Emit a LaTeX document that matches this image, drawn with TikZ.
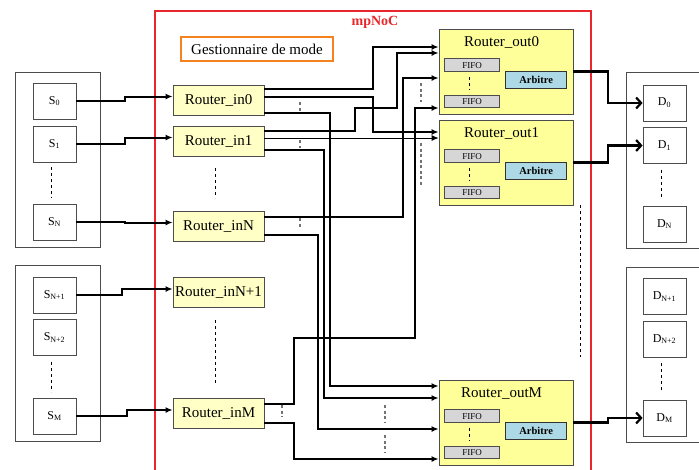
\documentclass[tikz,border=0pt]{standalone}
\usepackage{fontspec}
\setmainfont{Liberation Serif}
\usetikzlibrary{arrows.meta, positioning, calc}

\definecolor{inyellow}{HTML}{FFFFC6}
\definecolor{outyellow}{HTML}{FFFF99}
\definecolor{arbblue}{HTML}{ADD8E6}
\definecolor{fifogray}{HTML}{D6D6D6}
\definecolor{nocred}{HTML}{E8262B}
\definecolor{gestorange}{HTML}{F58220}

\begin{document}
\begin{tikzpicture}[x=1pt, y=-1pt, >=Latex,
  unitbox/.style={draw=black!70, fill=white, line width=0.8pt, minimum width=43pt, minimum height=36pt, inner sep=0pt, font=\fontsize{12}{14}\selectfont},
  rin/.style={draw=black!70, fill=inyellow, line width=0.8pt, minimum width=91pt, minimum height=30pt, inner sep=0pt, font=\fontsize{15}{18}\selectfont},
  rout/.style={draw=black!70, fill=outyellow, line width=0.8pt, minimum width=134pt, minimum height=85pt, inner sep=0pt},
  fifo/.style={draw=black!70, fill=fifogray, line width=0.8pt, minimum width=55pt, minimum height=12.5pt, inner sep=0pt, font=\fontsize{9}{10}\selectfont},
  arb/.style={draw=black!80, fill=arbblue, line width=0.8pt, minimum width=61pt, minimum height=17pt, inner sep=0pt, font=\bfseries\fontsize{10.5}{12}\selectfont},
  feed/.style={line width=2pt, -{Latex[length=7pt,width=6pt]}},
  conn/.style={line width=1.6pt, -{Latex[length=7pt,width=6pt]}},
  deliver/.style={line width=2.2pt, -{Straight Barb[length=5pt,width=11pt]}},
  gap/.style={dashed, line width=0.8pt},
  tick/.style={draw=black!55, line width=1.3pt, dash pattern=on 3pt off 2.5pt}]
  \useasboundingbox (0,0) rectangle (699,469);
  \clip (0,0) rectangle (699,469);

  % mpNoC frame
  \draw[draw=nocred, line width=1.3pt] (155,11) rectangle (591,480);
  \node[text=nocred, font=\bfseries\fontsize{14}{16}\selectfont] (noc) at (375,22) {mpNoC};
  \node[draw=gestorange, line width=1.2pt, minimum width=152pt, minimum height=24pt, inner sep=0pt, font=\fontsize{15}{18}\selectfont] (gest) at (257,49) {Gestionnaire de mode};

  % Sources
  \draw[draw=black!70, line width=0.9pt] (15,72) rectangle (100,247);
  \draw[draw=black!70, line width=0.9pt] (15,265) rectangle (100,441);
  \foreach \n/\y/\lbl in {0/101/0, 1/144/1, N/222/N, Na/295/N+1, Nb/337.5/N+2, M/416/M}
    \node[unitbox] (s\n) at (54.5,\y) {S\textsubscript{\lbl}};
  \draw[gap] (51,167) -- (51,198);
  \draw[gap] (51,362) -- (51,392);

  % Destinations
  \draw[draw=black!70, line width=0.9pt] (626,72) rectangle (710,248);
  \draw[draw=black!70, line width=0.9pt] (626,267) rectangle (710,442);
  \foreach \n/\y/\lbl in {0/103/0, 1/145.5/1, N/224/N, Na/296.5/N+1, Nb/339/N+2, M/418/M}
    \node[unitbox] (d\n) at (664.5,\y) {D\textsubscript{\lbl}};
  \draw[gap] (661,170) -- (661,200);
  \draw[gap] (661,363) -- (661,393);

  % Router_in
  \foreach \n/\y/\lbl in {0/100/0, 1/141/1, N/226/N, Na/292.5/N+1, M/413.5/M}
    \node[rin] (rin\n) at (218.5,\y) {Router\_in\lbl};
  \draw[gap] (215,168) -- (215,198);
  \draw[gap] (215,320) -- (215,383);

  % Router_out
  \foreach \n/\y in {0/71.5, 1/162.5, M/422.5} {
    \node[rout] (rout\n) at (506,\y) {};
    \node[font=\fontsize{15}{18}\selectfont] (t\n) at ($(rout\n.north west)+(63,14)$) {Router\_out\n};
    \node[fifo] (fa\n) at ($(rout\n.north west)+(33.5,36.5)$) {FIFO};
    \node[fifo] (fb\n) at ($(rout\n.north west)+(33.5,73)$) {FIFO};
    \draw[gap] ($(fa\n.south)+(-2.5,5)$) -- ($(fb\n.north)+(-2.5,-5.5)$);
    \node[arb] (arb\n) at ($(rout\n.north west)+(97.5,51.5)$) {Arbitre};
  }
  \draw[gap] (580,205) -- (580,357);

  % inputs
  \foreach \n/\xj in {0/125, 1/125, N/125, Na/122, M/127}
    \draw[feed] (s\n.east) -- (s\n.east -| \xj,0) |- ([yshift=3.5pt]rin\n.west);

  % outputs
  \foreach \n in {0, 1, M}
    \draw[deliver] (rout\n.east) -- (rout\n.east -| 608,0) |- (d\n.west);

  % crossbar links
  \draw[conn] ([yshift=11pt]rin0.east) -| (373,60) |- ([yshift=24.5pt]rout0.west);
  \draw[conn] ([yshift=3pt]rin0.east) -| (373,120) |- ([yshift=30.5pt]rout1.west);
  \draw[conn] ([yshift=-13pt]rin0.east) -| (330,300) |- ([yshift=36.5pt]routM.west);
  \draw[conn] ([yshift=10pt]rin1.east) -| (355,108) -| (397,80) |- ([yshift=18.5pt]rout0.west);
  \draw[conn, line width=0.8pt] ([yshift=3pt]rin1.east) -- ([yshift=3pt]rin1.east -| rout1.west);
  \draw[conn] ([yshift=-9pt]rin1.east) -| (324,300) |- ([yshift=24.5pt]routM.west);
  \draw[conn] ([yshift=9pt]rinN.east) -| (403,150) |- ([yshift=-6.5pt]rout0.west);
  \draw[conn] ([yshift=-9pt]rinN.east) -| (318,300) |- ([yshift=-6.5pt]routM.west);
  \draw[conn] ([yshift=9.5pt]rinM.east) -| (294,338) -| (415,200) |- ([yshift=-36.5pt]rout0.west);
  \draw[conn] ([yshift=-9.5pt]rinM.east) -| (294,440) |- ([yshift=-36.5pt]routM.west);

  % gaps between links
  \draw[tick] (300,102) -- (300,113);
  \draw[tick] (300,140) -- (300,148);
  \draw[tick] (300,218) -- (300,228);
  \draw[tick] (282,405) -- (282,417);
  \draw[tick] (421,83) -- (421,102);
  \draw[tick] (421,143) -- (421,185);
  \draw[tick] (385,405) -- (385,422);
  \draw[tick] (385,435) -- (385,453);
\end{tikzpicture}
\end{document}
